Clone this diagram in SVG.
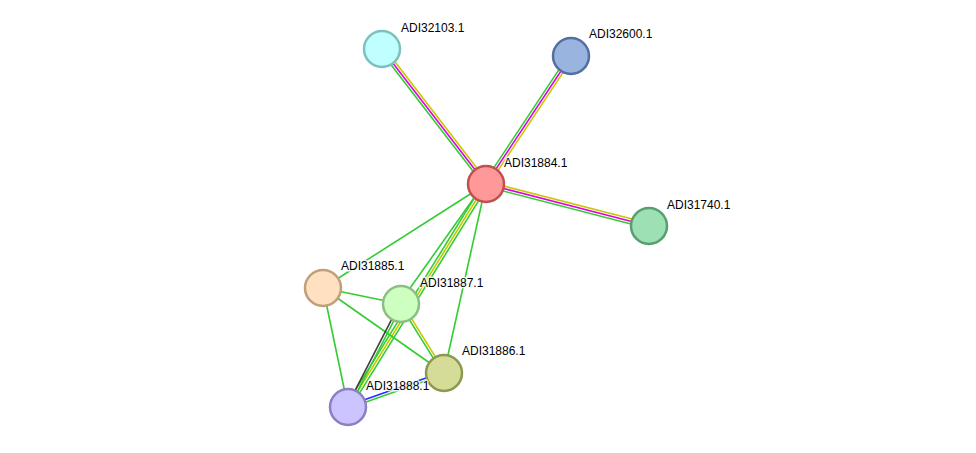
<svg xmlns="http://www.w3.org/2000/svg" width="976" height="453" viewBox="0 0 976 453">
<style>
.e{stroke-width:1.6;fill:none}
.g{stroke:#33cc33}.y{stroke:#c8c800}.m{stroke:#e000e0}.k{stroke:#404040}.b{stroke:#2929ff}
.n circle{stroke-width:2.5}
.n text{font-family:"Liberation Sans",Arial,sans-serif;font-size:12px;fill:#000;stroke:#fff;stroke-width:3;stroke-opacity:0.8;paint-order:stroke;stroke-linejoin:round}
</style>
<rect width="976" height="453" fill="#fff"/>
<g id="edges">
<line class="e g" x1="484.02" y1="185.53" x2="380.02" y2="50.53"/>
<line class="e m" x1="486" y1="184" x2="382" y2="49"/>
<line class="e y" x1="487.98" y1="182.47" x2="383.98" y2="47.47"/>
<line class="e g" x1="483.92" y1="182.62" x2="568.92" y2="54.62"/>
<line class="e m" x1="486" y1="184" x2="571" y2="56"/>
<line class="e y" x1="488.08" y1="185.38" x2="573.08" y2="57.38"/>
<line class="e y" x1="486.63" y1="181.58" x2="649.63" y2="223.58"/>
<line class="e m" x1="486" y1="184" x2="649" y2="226"/>
<line class="e g" x1="485.38" y1="186.42" x2="648.38" y2="228.42"/>
<line class="e g" x1="486" y1="184" x2="323" y2="288"/>
<line class="e g" x1="486" y1="184" x2="444" y2="373"/>
<line class="e g" x1="484.5" y1="183" x2="399.5" y2="303"/>
<line class="e g" x1="483.87" y1="182.68" x2="345.87" y2="405.68"/>
<line class="e y" x1="486" y1="184" x2="348" y2="407"/>
<line class="e g" x1="488.13" y1="185.32" x2="350.13" y2="408.32"/>
<line class="e g" x1="323" y1="288" x2="401" y2="304"/>
<line class="e g" x1="323" y1="288" x2="444" y2="373"/>
<line class="e g" x1="323" y1="288" x2="348" y2="407"/>
<line class="e k" x1="399.89" y1="303.43" x2="346.89" y2="406.43"/>
<line class="e g" x1="402.11" y1="304.57" x2="349.11" y2="407.57"/>
<line class="e g" x1="399.94" y1="304.66" x2="442.94" y2="373.66"/>
<line class="e y" x1="402.06" y1="303.34" x2="445.06" y2="372.34"/>
<line class="e b" x1="347.58" y1="405.82" x2="443.58" y2="371.82"/>
<line class="e g" x1="348.42" y1="408.18" x2="444.42" y2="374.18"/>
</g>
<g id="ADI32103.1" class="n"><circle cx="382" cy="49" r="18" fill="#bfffff" stroke="#7fbfbf"/><text x="401" y="32">ADI32103.1</text></g>
<g id="ADI32600.1" class="n"><circle cx="571" cy="56" r="18" fill="#9ab4e0" stroke="#5470a0"/><text x="589" y="38">ADI32600.1</text></g>
<g id="ADI31884.1" class="n"><circle cx="486" cy="184" r="18" fill="#ff9898" stroke="#c05050"/><text x="504" y="167">ADI31884.1</text></g>
<g id="ADI31740.1" class="n"><circle cx="649" cy="226" r="18" fill="#9ce0b4" stroke="#5a9e70"/><text x="667" y="209">ADI31740.1</text></g>
<g id="ADI31885.1" class="n"><circle cx="323" cy="288" r="18" fill="#ffe0c0" stroke="#c0a078"/><text x="341" y="270">ADI31885.1</text></g>
<g id="ADI31887.1" class="n"><circle cx="401" cy="304" r="18" fill="#ccffc0" stroke="#8cbf80"/><text x="420" y="287">ADI31887.1</text></g>
<g id="ADI31886.1" class="n"><circle cx="444" cy="373" r="18" fill="#d4dc98" stroke="#8c9850"/><text x="462" y="355">ADI31886.1</text></g>
<g id="ADI31888.1" class="n"><circle cx="348" cy="407" r="18" fill="#ccc4ff" stroke="#8c80c0"/><text x="366" y="390">ADI31888.1</text></g>
</svg>
